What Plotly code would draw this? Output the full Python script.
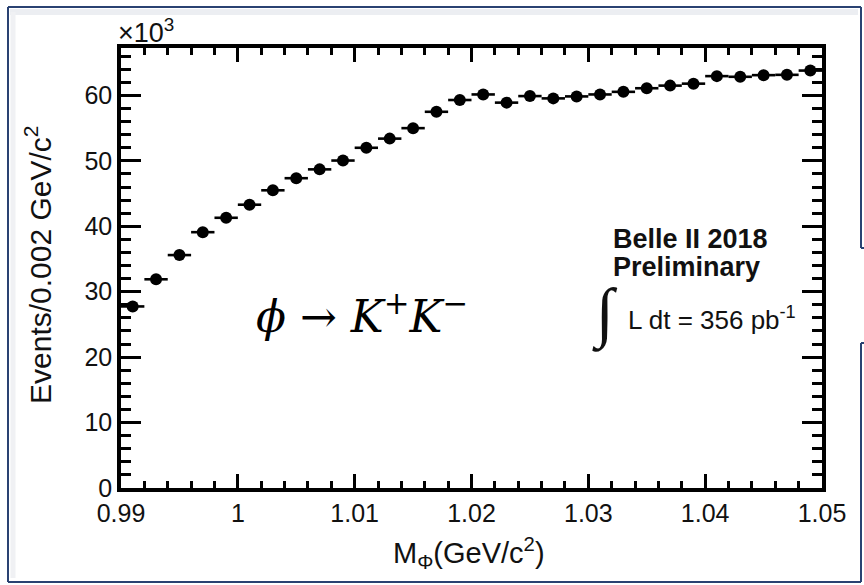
import numpy as np
import plotly.graph_objects as go

# Invariant-mass spectrum of K+K- pairs, bin centres in GeV/c^2
mass = [0.991, 0.993, 0.995, 0.997, 0.999, 1.001, 1.003, 1.005, 1.007, 1.009,
        1.011, 1.013, 1.015, 1.017, 1.019, 1.021, 1.023, 1.025, 1.027, 1.029,
        1.031, 1.033, 1.035, 1.037, 1.039, 1.041, 1.043, 1.045, 1.047, 1.049]
# Events per bin
events = [27750, 31900, 35600, 39100, 41300, 43300, 45500, 47350, 48700, 50050,
          52000, 53400, 55000, 57500, 59300, 60150, 58900, 59900, 59550, 59850,
          60150, 60550, 61100, 61500, 61800, 62950, 62850, 63100, 63150, 63800]

BIN_WIDTH = 0.002

x_tickvals = [0.99, 1.00, 1.01, 1.02, 1.03, 1.04, 1.05]
x_ticktext = ["0.99", "1", "1.01", "1.02", "1.03", "1.04", "1.05"]
y_tickvals = [0, 10000, 20000, 30000, 40000, 50000, 60000]
y_ticktext = ["0", "10", "20", "30", "40", "50", "60"]

W, H = 864, 585
L, R, T, B = 121, 822, 48, 488   # plot-area edges in pixels


def px(x, y):
    """Pixel position -> paper coordinates."""
    return (x - L) / (R - L), (B - y) / (B - T)


SANS = "Liberation Sans, Arial, Helvetica, sans-serif"
INK = "#111111"

fig = go.Figure()
fig.add_trace(go.Scatter(
    x=mass, y=events, mode="markers",
    marker=dict(color="black", size=12),
    error_x=dict(type="data", array=[BIN_WIDTH / 2] * len(mass),
                 color="black", thickness=2.6, width=0),
    error_y=dict(type="data", array=list(np.sqrt(events)),
                 color="black", thickness=2.6, width=0),
    showlegend=False, hoverinfo="x+y",
))

axis_common = dict(
    showline=True, linecolor="black", linewidth=3.5, mirror="ticks",
    ticks="inside", tickcolor="black", tickwidth=3,
    showgrid=False, zeroline=False,
    tickfont=dict(family=SANS, size=25, color=INK),
)
fig.update_xaxes(
    range=[0.99, 1.05], tickvals=x_tickvals, ticktext=x_ticktext, ticklen=14,
    minor=dict(ticks="inside", dtick=BIN_WIDTH, tick0=0.99, ticklen=7,
               tickwidth=3, tickcolor="black", showgrid=False),
    **axis_common)
fig.update_yaxes(
    range=[0, 67250], tickvals=y_tickvals, ticktext=y_ticktext, ticklen=20,
    minor=dict(ticks="inside", dtick=2000, tick0=0, ticklen=10,
               tickwidth=3, tickcolor="black", showgrid=False),
    **axis_common)

annotations = []


def note(text, x, y, size, xanchor="center", yanchor="middle", angle=0,
         family=SANS, color=INK):
    xp, yp = px(x, y)
    annotations.append(dict(
        text=text, x=xp, y=yp, xref="paper", yref="paper", showarrow=False,
        xanchor=xanchor, yanchor=yanchor, textangle=angle,
        font=dict(family=family, size=size, color=color)))


note("×10<sup>3</sup>", 116, 31, 27, xanchor="left")
note("Events/0.002 GeV/c<sup>2</sup>", 38, 265, 30, angle=-90)
note("M<sub>Φ</sub>(GeV/c<sup>2</sup>)", 469, 553, 29)
note("<i>ϕ</i> → <i>K</i><sup>+</sup><i>K</i><sup>−</sup>", 362, 313, 44,
     family="DejaVu Serif, Liberation Serif, serif", color="black")
note("<b>Belle II 2018</b>", 611, 239, 27, xanchor="left")
note("<b>Preliminary</b>", 611, 267, 27, xanchor="left")
note("∫", 605, 313, 66, family="Liberation Serif, serif")
note("L dt = 356 pb<sup>-1</sup>", 626, 318, 26, xanchor="left")

# Slide frame around the chart
NAVY = "#2a4272"
shapes = []


def seg(x0, y0, x1, y1, color=NAVY, width=2):
    a = px(x0, y0)
    b = px(x1, y1)
    shapes.append(dict(type="line", xref="paper", yref="paper",
                       x0=a[0], y0=a[1], x1=b[0], y1=b[1],
                       line=dict(color=color, width=width)))


seg(10, 12, 858, 12, color="#eceef2", width=6)
seg(13, 12, 13, 578, color="#f0f1f4", width=5)
seg(8, 7, 861, 7)
seg(8, 7, 8, 582)
seg(8, 582, 861, 582)
seg(861, 7, 861, 248)
seg(861, 248, 864, 248)
seg(861, 343, 864, 343)
seg(861, 343, 861, 582)

fig.update_layout(
    width=W, height=H,
    margin=dict(l=L, r=W - R, t=T, b=H - B),
    paper_bgcolor="white", plot_bgcolor="white",
    annotations=annotations, shapes=shapes,
)

fig.write_html("out.html")
